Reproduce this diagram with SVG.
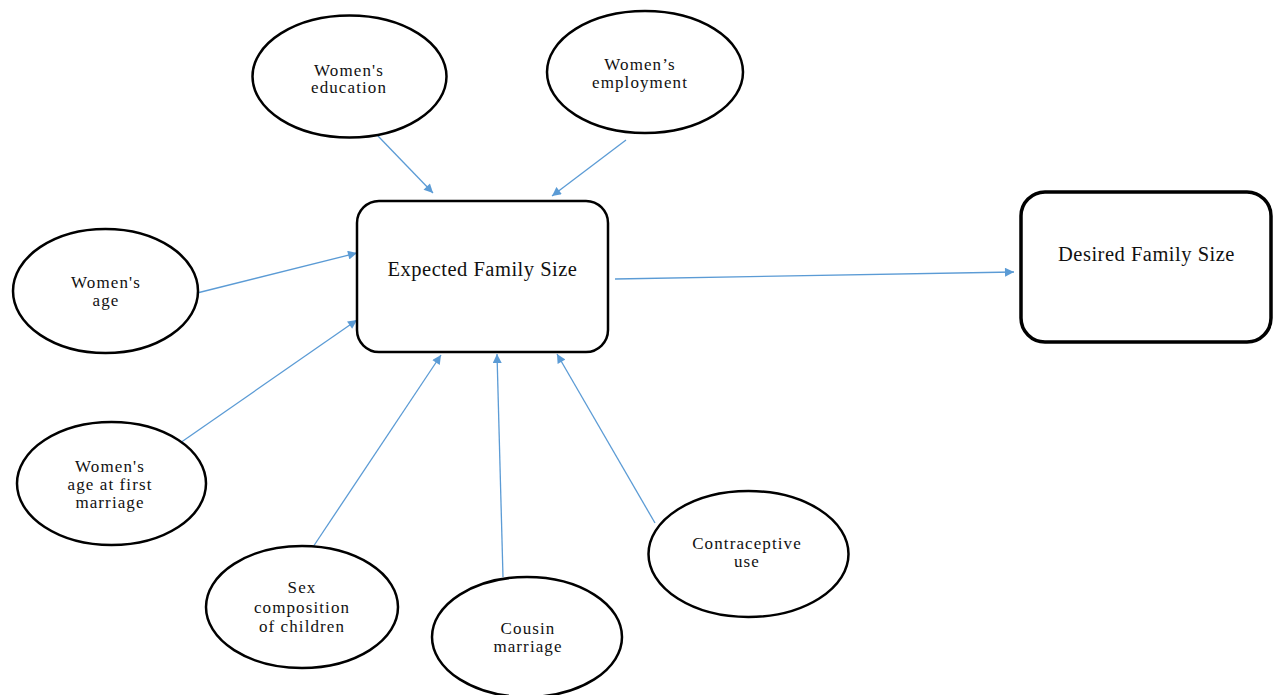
<svg xmlns="http://www.w3.org/2000/svg" width="1283" height="695" viewBox="0 0 1283 695">
<defs>
<style>
.el{fill:#fff;stroke:#000;stroke-width:2.5}
.bx{fill:#fff;stroke:#000;stroke-width:2.5}
.bx2{fill:#fff;stroke:#000;stroke-width:3.5}
.t{font-family:"Liberation Serif","Times New Roman",serif;font-size:17px;letter-spacing:1.1px;fill:#111;text-anchor:middle}
.tb{font-family:"Liberation Serif","Times New Roman",serif;font-size:20.5px;letter-spacing:0.5px;fill:#111;text-anchor:middle}
.c{stroke:#5b9bd5;stroke-width:1.3;fill:none;marker-end:url(#ah)}
</style>
<marker id="ah" viewBox="0 0 10 10" refX="10" refY="5" markerWidth="11" markerHeight="9" markerUnits="userSpaceOnUse" orient="auto">
<path d="M0,0 L10,5 L0,10 z" fill="#5b9bd5"/>
</marker>
</defs>
<rect width="1283" height="695" fill="#fff"/>
<g id="connectors">
<line class="c" x1="378" y1="136" x2="433" y2="193"/>
<line class="c" x1="626" y1="140" x2="552" y2="196"/>
<line class="c" x1="197" y1="293" x2="357" y2="253"/>
<line class="c" x1="180" y1="443" x2="357" y2="320"/>
<line class="c" x1="313" y1="547" x2="441" y2="355"/>
<line class="c" x1="503" y1="577" x2="497" y2="354"/>
<line class="c" x1="655" y1="523" x2="557" y2="354"/>
<line class="c" x1="615" y1="279" x2="1014" y2="272"/>
</g>
<g id="expected">
<rect class="bx" x="357" y="201" width="251" height="151" rx="22"/>
<text class="tb" x="482.5" y="276">Expected Family Size</text>
</g>
<g id="desired">
<rect class="bx2" x="1021" y="192" width="250" height="150" rx="24"/>
<text class="tb" x="1146.5" y="261">Desired Family Size</text>
</g>
<g id="education">
<ellipse class="el" cx="349.5" cy="76.5" rx="97" ry="61"/>
<text class="t" x="349" y="76">Women's</text>
<text class="t" x="349" y="93">education</text>
</g>
<g id="employment">
<ellipse class="el" cx="645" cy="72" rx="98" ry="61"/>
<text class="t" x="640" y="70">Women’s</text>
<text class="t" x="640" y="88">employment</text>
</g>
<g id="age">
<ellipse class="el" cx="105.5" cy="291" rx="92.5" ry="62"/>
<text class="t" x="106" y="288">Women's</text>
<text class="t" x="106" y="306">age</text>
</g>
<g id="agemarriage">
<ellipse class="el" cx="111.5" cy="483.5" rx="94.5" ry="61.5"/>
<text class="t" x="110" y="472">Women's</text>
<text class="t" x="110" y="490">age at first</text>
<text class="t" x="110" y="508">marriage</text>
</g>
<g id="sexcomp">
<ellipse class="el" cx="302" cy="607" rx="96" ry="61"/>
<text class="t" x="302" y="593">Sex</text>
<text class="t" x="302" y="613">composition</text>
<text class="t" x="302" y="632">of children</text>
</g>
<g id="cousin">
<ellipse class="el" cx="527" cy="637" rx="95" ry="60"/>
<text class="t" x="528" y="634">Cousin</text>
<text class="t" x="528" y="652">marriage</text>
</g>
<g id="contraceptive">
<ellipse class="el" cx="748.5" cy="554" rx="100" ry="63"/>
<text class="t" x="747" y="549">Contraceptive</text>
<text class="t" x="747" y="567">use</text>
</g>
</svg>
